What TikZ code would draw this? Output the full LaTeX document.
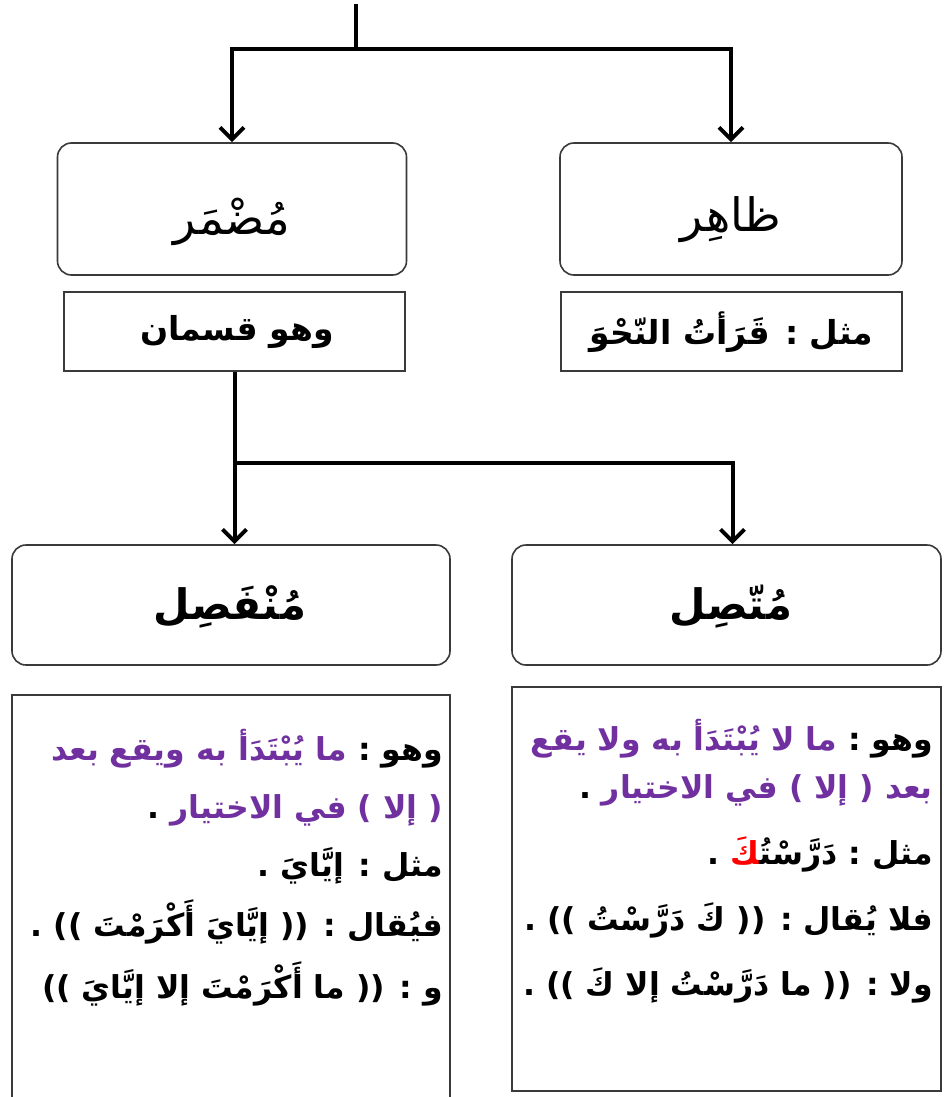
\documentclass[tikz,border=0pt]{standalone}
\usepackage{fontspec}
\usetikzlibrary{arrows.meta}
\TeXXeTstate=1
\newfontfamily\arabicfont[Script=Arabic]{DejaVu Sans}
\newcommand\AR[1]{\beginR #1\endR}
\definecolor{purp}{HTML}{7030A0}
\definecolor{edge}{HTML}{3A3A3A}
\definecolor{redk}{HTML}{FF0000}
\tikzset{
  roundbox/.style={draw=edge, line width=1.6pt, rounded corners=14pt, inner sep=0pt},
  sqbox/.style={draw=edge, line width=1.6pt, inner sep=0pt},
  conn/.style={line width=4pt, draw=black},
  arr/.style={conn, -{Straight Barb[length=12pt, width=24pt, line width=4pt]}},
  headtxt/.style={font=\arabicfont\fontsize{46}{54}\selectfont, inner sep=0pt},
  headbtxt/.style={font=\arabicfont\bfseries\fontsize{42}{50}\selectfont, inner sep=0pt},
  notetxt/.style={font=\arabicfont\bfseries\fontsize{33}{38}\selectfont, inner sep=0pt},
  bodytxt/.style={font=\arabicfont\bfseries\fontsize{31.5}{36}\selectfont, inner sep=0pt, anchor=base east},
}
\begin{document}
\begin{tikzpicture}[x=1pt,y=-1pt]
\fill[white] (0,0) rectangle (944,1097);
\useasboundingbox (0,0) rectangle (944,1097);

% boxes
\node[roundbox, minimum width=349pt, minimum height=132pt] (mudmar) at (232,209) {};
\node[roundbox, minimum width=342pt, minimum height=132pt] (zahir) at (731,209) {};
\node[sqbox, minimum width=341pt, minimum height=79pt] (mudmarnote) at (234.5,331.5) {};
\node[sqbox, minimum width=341pt, minimum height=79pt] (zahirnote) at (731.5,331.5) {};
\node[roundbox, minimum width=438pt, minimum height=120pt] (munfasil) at (231,605) {};
\node[roundbox, minimum width=429pt, minimum height=120pt] (muttasil) at (726.5,605) {};
\node[sqbox, minimum width=438pt, minimum height=420pt, anchor=north] (munfasilbody) at (231,694) {};
\node[sqbox, minimum width=429pt, minimum height=404pt, anchor=north] (muttasilbody) at (726.5,686) {};

% connectors
\coordinate (top) at (356,4);
\coordinate (br1) at (356,49);
\draw[conn] (top) -- (br1);
\draw[arr] (br1) -| (mudmar.north);
\draw[arr] (br1) -| (zahir.north);
\coordinate (br2) at (234.5,463);
\draw[conn] (mudmarnote.south) -- (br2);
\draw[arr] (br2) -- (br2 |- munfasil.north);
\draw[arr] (br2) -| ([xshift=6pt]muttasil.north);

% texts
\node[headtxt] (mudmartxt) at (232,222) {\AR{مُضْمَر}};
\node[headtxt] (zahirtxt) at (731,220) {\AR{ظاهِر}};
\node[notetxt] (mudmarnotetxt) at (237,332) {\AR{وهو قسمان}};
\node[notetxt] (zahirnotetxt) at (731.5,332) {\AR{مثل : قَرَأتُ النّحْوَ}};
\node[headbtxt] (munfasiltxt) at (230,607) {\AR{مُنْفَصِل}};
\node[headbtxt] (muttasiltxt) at (731,607) {\AR{مُتّصِل}};

\node[bodytxt] (L1) at (443,760) {\textcolor{purp}{\AR{ما يُبْتَدَأ به ويقع بعد}}\ \AR{وهو :}};
\node[bodytxt] (L2) at (443,818) {\AR{.}\ \textcolor{purp}{\AR{( إلا ) في الاختيار}}};
\node[bodytxt] (L3) at (443,876) {\AR{مثل : إيَّايَ .}};
\node[bodytxt] (L4) at (443,936) {\AR{فيُقال : (( إيَّايَ أَكْرَمْتَ )) .}};
\node[bodytxt] (L5) at (443,998) {\AR{و : (( ما أَكْرَمْتَ إلا إيَّايَ ))}};

\node[bodytxt] (R1) at (933,750) {\textcolor{purp}{\AR{ما لا يُبْتَدَأ به ولا يقع}}\ \AR{وهو :}};
\node[bodytxt] (R2) at (933,798) {\AR{.}\ \textcolor{purp}{\AR{بعد ( إلا ) في الاختيار}}};
\node[bodytxt] (R3) at (933,864) {\AR{.}\ \textcolor{redk}{\AR{^^^^200dكَ}}\AR{دَرَّسْتُ^^^^200d}\ \AR{مثل :}};
\node[bodytxt] (R4) at (933,930) {\AR{فلا يُقال : (( كَ دَرَّسْتُ )) .}};
\node[bodytxt] (R5) at (933,995) {\AR{ولا : (( ما دَرَّسْتُ إلا كَ )) .}};
\end{tikzpicture}
\end{document}
